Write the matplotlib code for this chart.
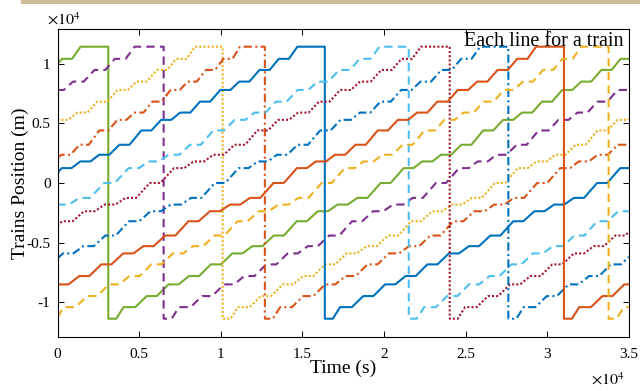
import matplotlib
matplotlib.use('Agg')
import matplotlib.pyplot as plt
from matplotlib.patches import Rectangle
from matplotlib.ticker import FuncFormatter
import numpy as np

plt.rcParams['font.family'] = 'Liberation Serif'
plt.rcParams['mathtext.fontset'] = 'stix'

# stops along the line (m), bottom end first, top end last
stop_pos = [-11390, -10420, -9490, -8510, -7810, -6830, -5910, -5300, -4410,
            -3210, -2370, -1810, -1250, 0, 1250, 1810, 2370, 3210, 4410,
            5300, 5910, 6830, 7810, 8510, 9490, 10420, 11440]
# arrival / departure (s) at each stop, counted from the wrap at the top end
arrive = [0, 936, 2354, 3691, 4944, 6281, 7600, 8826, 10136, 11539, 12834,
          14045, 15256, 16674, 18090, 19230, 20380, 21620, 22960, 24180,
          25340, 26560, 27800, 28960, 30200, 31380, 32520]
depart = [490, 1652, 2974, 4311, 5564, 6901, 8220, 9446, 10756, 12159, 13454,
          14665, 15876, 17294, 18690, 19850, 21000, 22240, 23580, 24800,
          25960, 27180, 28420, 29580, 30820, 32000, 34200]
loop_time = 34200
t_end = 35000

# one entry per train (top to bottom at t = 0)
wrap_time = [3109, 6500, 10110, 12699, 16371, 21512, 24021, 27611, 31016, 33752]
start_phase = [31120, 28060, 24140, 20120, 17830, 14000, 11280, 7280, 3640, 552]
colors = ['#77AC30', '#7E2F8E', '#EDB120', '#D95319', '#0072BD',
          '#4DBEEE', '#A2142F', '#0072BD', '#D95319', '#EDB120']
styles = ['-', (0, (4, 2.5)), (0, (1, 1)), (0, (4, 1.6, 1, 1.6)),
          '-', (0, (4, 2.5)), (0, (1, 1)), (0, (4, 1.6, 1, 1.6)),
          '-', (0, (4, 2.5))]

prof_t = np.ravel(np.column_stack([arrive, depart])).astype(float)
prof_x = np.repeat(stop_pos, 2).astype(float)

fig = plt.figure(figsize=(6.4, 3.91), dpi=100)
fig.patches.append(Rectangle((21 / 640, 1 - 4 / 391), 1, 4 / 391,
                             transform=fig.transFigure, color='#c8bd96', lw=0))
ax = fig.add_axes([57.5 / 640, 1 - 336.7 / 391, 571.5 / 640, 307.4 / 391])

for w, p0, c, ls in zip(wrap_time, start_phase, colors, styles):
    # before the wrap
    tau1 = np.concatenate([[p0], prof_t[prof_t > p0]])
    x1 = np.interp(tau1, prof_t, prof_x)
    t1 = (tau1 - p0) * w / (loop_time - p0)
    # after the wrap
    tau2 = np.concatenate([prof_t[prof_t < t_end - w], [t_end - w]])
    x2 = np.interp(tau2, prof_t, prof_x)
    t2 = w + tau2
    ax.plot(np.concatenate([t1, t2]), np.concatenate([x1, x2]),
            color=c, linestyle=ls, lw=1.5, solid_joinstyle='round',
            dash_joinstyle='round')

ax.set_xlim(0, t_end)
ax.set_ylim(-12900, 12900)
ax.set_xticks(np.arange(0, 35001, 5000))
ax.set_yticks(np.arange(-10000, 10001, 5000))
fmt = FuncFormatter(lambda v, p: '%g' % (v / 1e4))
ax.xaxis.set_major_formatter(fmt)
ax.yaxis.set_major_formatter(fmt)
ax.tick_params(direction='in', top=True, right=True, length=4, width=0.7,
               labelsize=11)
ax.tick_params(axis='x', pad=8)
ax.tick_params(axis='y', pad=5)
for s in ax.spines.values():
    s.set_linewidth(0.8)

ax.set_xlabel('Time (s)', fontsize=14)
ax.set_ylabel('Trains Position (m)', fontsize=14)
ax.xaxis.set_label_coords(0.5, -0.075)
ax.yaxis.set_label_coords(-0.05, 0.5)

ax.text(623 / 640, 1 - 46 / 391, 'Each line for a train', transform=fig.transFigure,
        ha='right', va='baseline', fontsize=14.5)
fig.text(47 / 640, 1 - 25 / 391, r'$\times10^{4}$', fontsize=11.5, va='baseline')
fig.text(591 / 640, 1 - 385 / 391, r'$\times10^{4}$', fontsize=11.5, va='baseline')

fig.savefig('out.png', dpi=100)
